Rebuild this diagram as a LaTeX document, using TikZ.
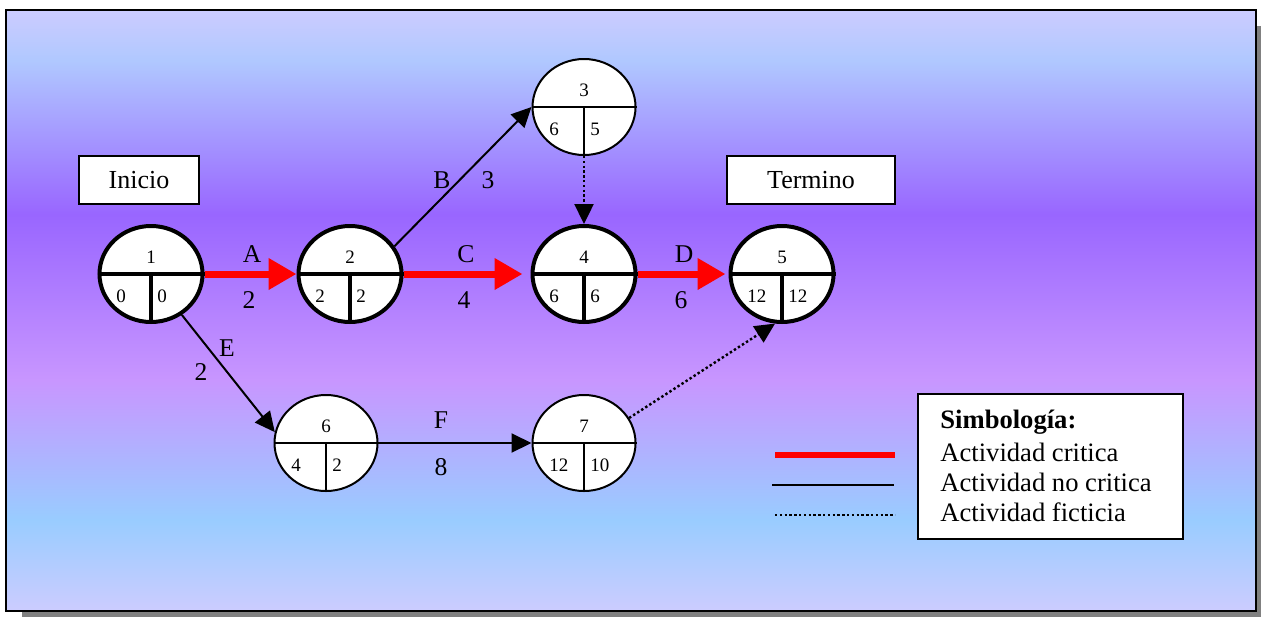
\documentclass[tikz,border=0pt]{standalone}
\usepackage{fontspec}
\setmainfont{Liberation Serif}
\usetikzlibrary{shapes.geometric,arrows.meta}

\definecolor{fondoA}{RGB}{204,204,255}
\definecolor{fondoB}{RGB}{153,204,255}
\definecolor{fondoC}{RGB}{200,150,255}
\definecolor{fondoD}{RGB}{153,102,255}
\definecolor{fondoE}{RGB}{176,200,255}
\definecolor{sombra}{RGB}{128,128,128}

\pgfdeclareverticalshading{fondo}{100bp}{color(0bp)=(fondoA); color(25bp)=(fondoA);
  color(32.6bp)=(fondoB); color(44.2bp)=(fondoC); color(58bp)=(fondoD);
  color(70.8bp)=(fondoE); color(75bp)=(fondoA); color(100bp)=(fondoA)}

\begin{document}
\begin{tikzpicture}[x=0.5pt,y=-0.5pt,
  evento/.style={ellipse,draw,fill=white,minimum width=51.5pt,minimum height=48pt,inner sep=0pt},
  num/.style={font=\fontsize{9.5}{10}\selectfont,inner sep=0pt},
  etiq/.style={font=\fontsize{12.8}{14}\selectfont,inner sep=0pt},
  caja/.style={draw,fill=white,line width=1pt,minimum height=24pt,font=\fontsize{13}{15}\selectfont},
  ley/.style={anchor=base west,inner sep=0pt,font=\fontsize{13.3}{15}\selectfont},
  critica/.style={red,line width=3.5pt,-{Triangle[length=14pt,width=15pt]}},
  nocritica/.style={line width=1pt,-{Triangle[length=10pt,width=9.5pt]}},
  ficticia/.style={line width=1.2pt,dash pattern=on 1.2pt off 1.2pt,-{Triangle[length=10pt,width=9.5pt]}}]
  \useasboundingbox (0,0) rectangle (1261,616);
  \clip (0,0) rectangle (1261,616);

  %——————————————————————————————————————————————
  % Fondo con sombra y degradado
  %——————————————————————————————————————————————
  \fill[sombra] (22,26) rectangle (1272,627);
  \draw[line width=1pt,shading=fondo] (6,10) rectangle (1256,611);

  %——————————————————————————————————————————————
  % Cajas de inicio y termino
  %——————————————————————————————————————————————
  \node[caja,minimum width=60pt] (inicio) at (139,180) {Inicio};
  \node[caja,minimum width=84pt] (termino) at (811,180) {Termino};

  %——————————————————————————————————————————————
  % Eventos: numero, tiempo temprano, tiempo tardio
  %——————————————————————————————————————————————
  \foreach \n/\x/\y/\i/\d/\g in {1/151/274/0/0/2, 2/350/274/2/2/2, 3/584/107/6/5/1,
      4/584/274/6/6/2, 5/782/274/12/12/2, 6/326/443/4/2/1, 7/584/443/12/10/1} {
    \node[evento,line width=\g pt] (n\n) at (\x,\y) {};
    \draw[line width=\g pt] (n\n.west) -- (n\n.east) (n\n.center) -- (n\n.south);
    \node[num,anchor=base] (n\n-num) at (\x,\y-11) {\n};
    \node[num,anchor=base west] (n\n-izq) at (\x-35,\y+28) {\i};
    \node[num,anchor=base west] (n\n-der) at (\x+6,\y+28) {\d};
  }

  %——————————————————————————————————————————————
  % Actividades
  %——————————————————————————————————————————————
  % Ruta critica
  \draw[critica] (n1.east) -- (n2.west);
  \draw[critica,shorten >=4pt] (n2.east) -- (n4.west);
  \draw[critica,shorten >=1.5pt] (n4.east) -- (n5.west);
  % No criticas
  \draw[nocritica] (n2.32) -- (n3.west);
  \draw[nocritica] (n1.-53) -- (n6.168);
  \draw[nocritica] (n6.east) -- (n7.west);
  % Ficticias
  \draw[ficticia] (n3.south) -- (n4.north);
  \draw[ficticia] (n7.29) -- (n5.-98);

  %——————————————————————————————————————————————
  % Etiquetas: actividad y duracion
  %——————————————————————————————————————————————
  \node[etiq] (lA) at (252,254) {A};
  \node[etiq] (dA) at (249,300) {2};
  \node[etiq] (lB) at (442,180) {B};
  \node[etiq] (dB) at (488,180) {3};
  \node[etiq] (lC) at (466,254) {C};
  \node[etiq] (dC) at (464,300) {4};
  \node[etiq] (lD) at (684,254) {D};
  \node[etiq] (dD) at (681,300) {6};
  \node[etiq] (lE) at (227,348) {E};
  \node[etiq] (dE) at (201,372) {2};
  \node[etiq] (lF) at (441,420) {F};
  \node[etiq] (dF) at (441,467) {8};

  %——————————————————————————————————————————————
  % Simbologia
  %——————————————————————————————————————————————
  \node[draw,fill=white,line width=1pt,minimum width=132.5pt,minimum height=72.5pt] (leyenda) at (1050.5,466.5) {};
  \node[ley,font=\fontsize{13.3}{15}\selectfont\bfseries] (ley1) at (940,428) {Simbología:};
  \node[ley] (ley2) at (940,461) {Actividad critica};
  \node[ley] (ley3) at (940,491) {Actividad no critica};
  \node[ley] (ley4) at (940,521) {Actividad ficticia};
  \coordinate (rojoA) at (775,455);
  \coordinate (rojoB) at (895,455);
  \coordinate (negroA) at (772,485);
  \coordinate (negroB) at (894,485);
  \coordinate (puntoA) at (775,515);
  \coordinate (puntoB) at (895,515);
  \draw[red,line width=3pt] (rojoA) -- (rojoB);
  \draw[line width=1pt] (negroA) -- (negroB);
  \draw[line width=1.2pt,dash pattern=on 1.2pt off 1.2pt] (puntoA) -- (puntoB);
\end{tikzpicture}
\end{document}
